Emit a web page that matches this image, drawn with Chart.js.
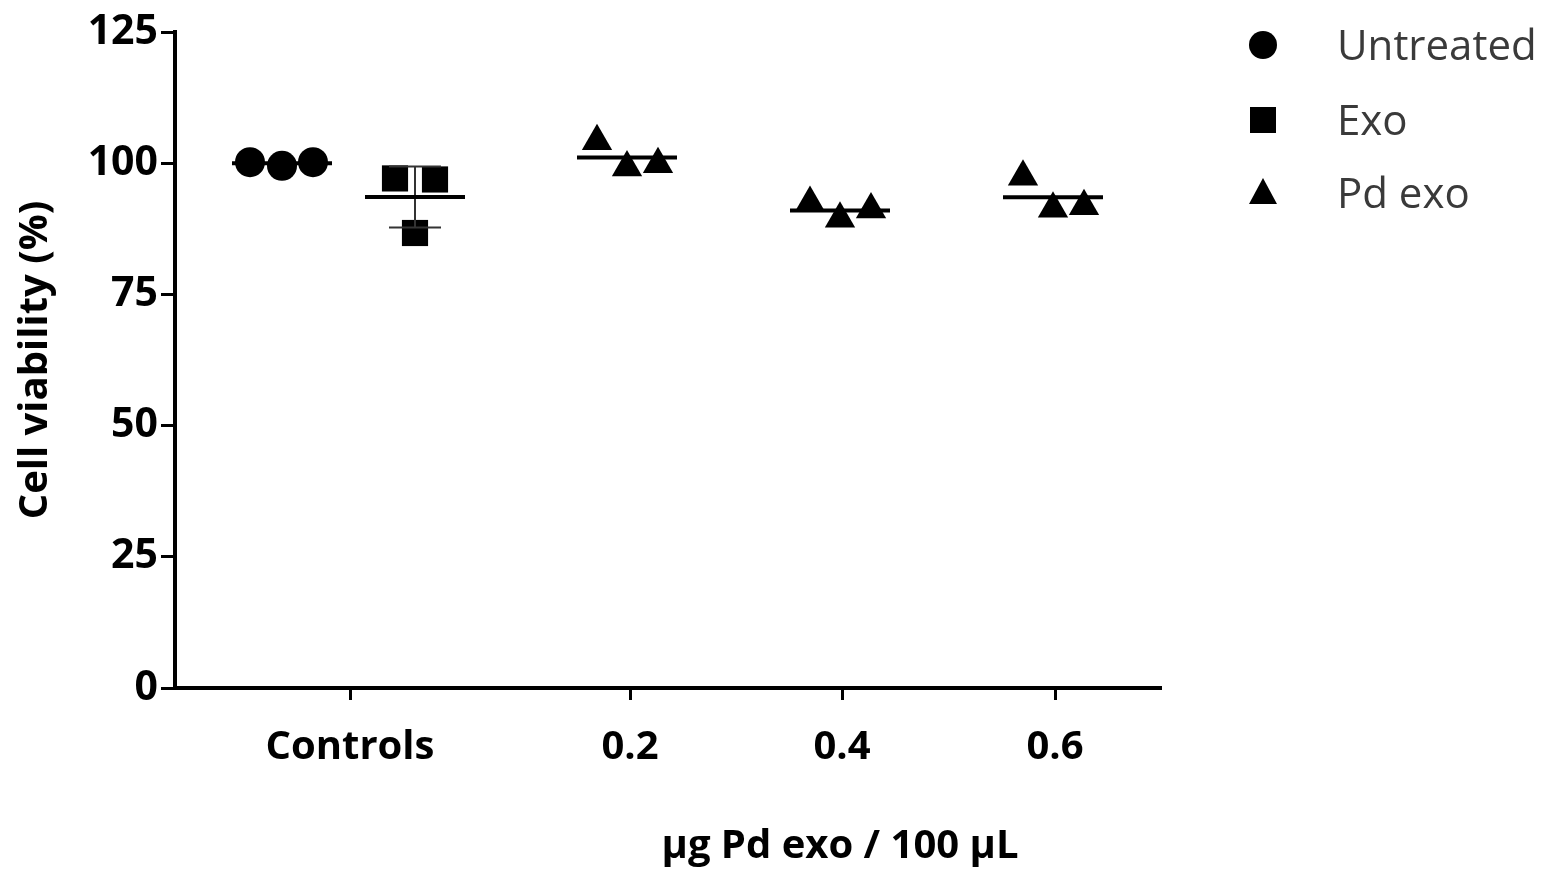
<!DOCTYPE html>
<html lang="en">
<head>
<meta charset="UTF-8">
<script src="https://cdn.jsdelivr.net/npm/chart.js"></script>
<title>Cell viability</title>
<style>
    body { margin: 0; background: #fff; }
    canvas { display: block; }
</style>
</head>
<body>

<canvas id="viabilityChart" width="1546" height="869"></canvas>

<script>
    // x axis is a plain number line, ticks placed under each group
    var tickPositions = [1.75, 4.55, 6.67, 8.8];
    var tickLabels = ['Controls', '0.2', '0.4', '0.6'];

    var seriesNames = ['Untreated', 'Exo', 'Pd exo'];

    // controls
    var untreatedCenter = 1.07;
    var untreatedJitter = [-0.32, 0, 0.31];
    var untreatedValues = [100.2, 99.5, 100.2];

    var exoCenter = 2.4;
    var exoJitter = [-0.2, 0.2, 0];
    var exoValues = [97.1, 96.9, 86.7];

    // Pd exo doses 0.2 / 0.4 / 0.6
    var pdCenters = [4.52, 6.65, 8.78];
    var pdJitter = [-0.3, 0, 0.31];
    var pd02 = [104.2, 99.2, 99.8];
    var pd04 = [92.4, 89.4, 91.2];
    var pd06 = [97.4, 91.3, 91.8];

    // error bars as seen in the figure (only the Exo one sticks out of the markers)
    var groupErrors = [0, 5.8, 0, 0, 0];

    var FONT = '"Open Sans", "DejaVu Sans", sans-serif';

    function mean(arr) {
        return arr.reduce(function (a, b) { return a + b; }, 0) / arr.length;
    }

    function points(center, jitter, values) {
        return values.map(function (v, i) { return {x: center + jitter[i], y: v}; });
    }

    var groups = [
        {center: untreatedCenter, values: untreatedValues},
        {center: exoCenter, values: exoValues},
        {center: pdCenters[0], values: pd02},
        {center: pdCenters[1], values: pd04},
        {center: pdCenters[2], values: pd06}
    ];

    var datasets = [
        {
            label: seriesNames[0], type: 'scatter',
            data: points(untreatedCenter, untreatedJitter, untreatedValues),
            pointStyle: 'circle', pointRadius: 15, backgroundColor: '#000', borderColor: '#000', borderWidth: 0, order: 2
        },
        {
            label: seriesNames[1], type: 'scatter',
            data: points(exoCenter, exoJitter, exoValues),
            pointStyle: 'rect', pointRadius: 18.5, backgroundColor: '#000', borderColor: '#000', borderWidth: 0, order: 2
        },
        {
            label: seriesNames[2], type: 'scatter',
            data: points(pdCenters[0], pdJitter, pd02)
                .concat(points(pdCenters[1], pdJitter, pd04))
                .concat(points(pdCenters[2], pdJitter, pd06)),
            pointStyle: 'triangle', pointRadius: 17.5, backgroundColor: '#000', borderColor: '#000', borderWidth: 0, order: 2
        }
    ];

    // mean lines + error bars
    groups.forEach(function (g, i) {
        var m = mean(g.values);
        datasets.push({
            type: 'line', label: 'mean' + i,
            data: [{x: g.center - 0.5, y: m}, {x: g.center + 0.5, y: m}],
            borderColor: '#000', borderWidth: 4, pointRadius: 0, fill: false, order: 1
        });
        var e = groupErrors[i];
        if (e > 0) {
            var cap = 0.26;
            datasets.push({
                type: 'line', label: 'err' + i,
                data: [
                    {x: g.center - cap, y: m + e}, {x: g.center + cap, y: m + e},
                    {x: g.center, y: null},
                    {x: g.center, y: m + e}, {x: g.center, y: m - e},
                    {x: g.center, y: null},
                    {x: g.center - cap, y: m - e}, {x: g.center + cap, y: m - e}
                ],
                borderColor: '#333', borderWidth: 2, pointRadius: 0, fill: false, spanGaps: false, order: 1
            });
        }
    });

    // legend and x title drawn by hand to get the figure's spacing
    var figureText = {
        id: 'figureText',
        afterDraw: function (chart) {
            var ctx = chart.ctx;
            ctx.save();
            ctx.fillStyle = '#000';
            ctx.font = 'bold 40px ' + FONT;
            ctx.textAlign = 'center';
            ctx.textBaseline = 'middle';
            ctx.fillText('\u03bcg Pd exo / 100 \u03bcL', 840, 847);

            var styles = ['circle', 'rect', 'triangle'];
            var rowY = [45, 120, 193];
            var mx = 1263;
            ctx.font = '42px ' + FONT;
            ctx.textAlign = 'left';
            styles.forEach(function (s, i) {
                var y = rowY[i];
                ctx.fillStyle = '#000';
                ctx.beginPath();
                if (s === 'circle') {
                    ctx.arc(mx, y, 14, 0, Math.PI * 2);
                } else if (s === 'rect') {
                    ctx.rect(mx - 13, y - 13, 26, 26);
                } else {
                    ctx.moveTo(mx, y - 15);
                    ctx.lineTo(mx + 14, y + 11);
                    ctx.lineTo(mx - 14, y + 11);
                    ctx.closePath();
                }
                ctx.fill();
                ctx.fillStyle = '#3a3a3a';
                ctx.fillText(seriesNames[i], 1337, y + 3);
            });
            ctx.restore();
        }
    };

    var ctx = document.getElementById('viabilityChart').getContext('2d');
    var myChart = new Chart(ctx, {
        type: 'scatter',
        data: {datasets: datasets},
        options: {
            responsive: false,
            animation: false,
            layout: {padding: {top: 32, right: 386, bottom: 0, left: 0}},
            plugins: {
                legend: {display: false},
                tooltip: {enabled: false}
            },
            scales: {
                x: {
                    type: 'linear',
                    min: 0,
                    max: 9.85,
                    afterBuildTicks: function (scale) {
                        scale.ticks = tickPositions.map(function (v) { return {value: v}; });
                    },
                    afterFit: function (scale) { scale.height = 181; },
                    ticks: {
                        autoSkip: false,
                        maxRotation: 0,
                        padding: 24,
                        color: '#000',
                        font: {family: FONT, size: 40, weight: 'bold'},
                        callback: function (value) {
                            var k = tickPositions.findIndex(function (p) { return Math.abs(p - value) < 1e-6; });
                            return k >= 0 ? tickLabels[k] : '';
                        }
                    },
                    grid: {display: true, drawOnChartArea: false, drawTicks: true, tickLength: 12, color: '#000', lineWidth: 3},
                    border: {display: true, color: '#000', width: 4}
                },
                y: {
                    min: 0,
                    max: 125,
                    afterFit: function (scale) { scale.width = 175; },
                    ticks: {
                        stepSize: 25,
                        padding: 3,
                        color: '#000',
                        font: {family: FONT, size: 41, weight: 'bold'}
                    },
                    title: {
                        display: true,
                        text: 'Cell viability (%)',
                        color: '#000',
                        font: {family: FONT, size: 40, weight: 'bold'},
                        padding: {top: 12, bottom: 0}
                    },
                    grid: {display: true, drawOnChartArea: false, drawTicks: true, tickLength: 14, color: '#000', lineWidth: 3},
                    border: {display: true, color: '#000', width: 4}
                }
            }
        },
        plugins: [figureText]
    });
</script>

</body>
</html>
